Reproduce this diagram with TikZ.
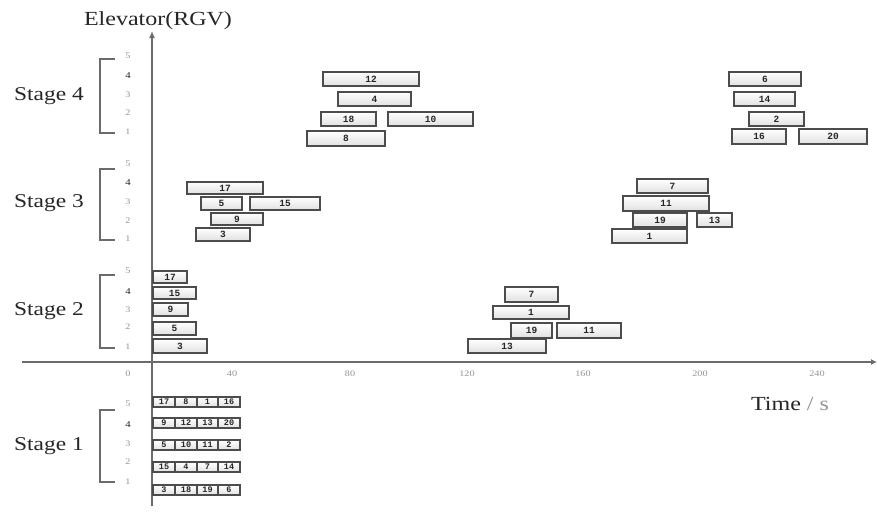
\documentclass[tikz,border=0pt]{standalone}
\usepackage{fontspec}
\setmainfont{Liberation Serif}[FakeStretch=1.2]
\newfontfamily\boxfont{Liberation Mono}
\usetikzlibrary{arrows.meta}

\definecolor{axisgray}{gray}{0.42}
\definecolor{boxedge}{gray}{0.30}
\definecolor{lightlab}{gray}{0.58}
\definecolor{darklab}{gray}{0.15}

\tikzset{
  axis/.style={draw=axisgray, line width=1.8pt},
  bracket/.style={draw=axisgray, line width=1.6pt},
  stagelab/.style={font=\fontsize{19.5}{21}\selectfont, text=darklab},
  titlelab/.style={font=\fontsize{20}{21}\selectfont, text=darklab},
  ticklab/.style={font=\fontsize{8.5}{9}\selectfont, text=lightlab},
  rowlab/.style={font=\fontsize{8.5}{9}\selectfont, text=lightlab},
  rowlabdark/.style={font=\fontsize{9}{10}\selectfont, text=darklab},
  jobbox/.style={draw=boxedge, line width=1.2pt, top color=white,
    bottom color=black!12, inner sep=0pt, outer sep=0pt,
    font=\boxfont\bfseries\fontsize{9.5}{9.5}\selectfont, text=black!85},
  cellbox/.style={jobbox, anchor=north west, minimum height=10pt,
    font=\boxfont\bfseries\fontsize{8.5}{8.5}\selectfont}
}

% one task bar: name, left, top, right, bottom, label
\newcommand\jobrect[6]{%
  \node[jobbox, anchor=north west, minimum width={(#4-#2)*1pt},
        minimum height={(#5-#3)*1pt}] (#1) at (#2,#3) {#6};}

\begin{document}
\begin{tikzpicture}[x=1pt, y=-1pt]
\useasboundingbox (0,0) rectangle (877,515);
\fill[white] (0,0) rectangle (877,515);

% axes
\coordinate (ybot) at (152,506);
\coordinate (ytop) at (152,31);
\coordinate (xleft) at (22,362);
\coordinate (xright) at (877,362);
\draw[axis, -{Latex[length=7pt,width=6pt]}] (ybot) -- (ytop);
\draw[axis, -{Latex[length=6pt,width=6pt]}] (xleft) -- (xright);

\node[titlelab] (ylabel) at (158,21) {Elevator(RGV)};
\node[titlelab] (xlabel) at (790,404) {Time {\color{lightlab}/ s}};

% time ticks
\foreach \v/\x in {0/128,40/232,80/350,120/467,160/583,200/700,240/817}
  \node[ticklab] (tick\v) at (\x,374) {\v};

% stage labels, brackets and row numbers
\foreach \s/\yc/\ya/\yb/\ra/\rb/\rc/\rd/\re in
  {4/96/59/133/56/76/95/113/132,
   3/203/169/240/164/183/202/221/239,
   2/311/275/348/271/292/310/327/347,
   1/446/410/482/404/425/444/462/482}{
  \node[stagelab] (stage\s) at (49,\yc) {Stage \s};
  \draw[bracket] (115,\ya) -- (100,\ya) -- (100,\yb) -- (115,\yb);
  \node[rowlab] (st\s row5) at (128,\ra) {5};
  \node[rowlabdark] (st\s row4) at (128,\rb) {4};
  \node[rowlab] (st\s row3) at (128,\rc) {3};
  \node[rowlab] (st\s row2) at (128,\rd) {2};
  \node[rowlab] (st\s row1) at (128,\re) {1};
}

% stage 4
\jobrect{a12}{323}{72}{419}{86}{12}
\jobrect{a4}{338}{92}{411}{106}{4}
\jobrect{a18}{321}{112}{376}{126}{18}
\jobrect{a10}{388}{112}{473}{126}{10}
\jobrect{a8}{307}{131}{385}{146}{8}
\jobrect{a6}{729}{72}{801}{86}{6}
\jobrect{a14}{734}{92}{795}{106}{14}
\jobrect{a2}{749}{112}{804}{126}{2}
\jobrect{a16}{732}{129}{786}{144}{16}
\jobrect{a20}{799}{129}{867}{144}{20}

% stage 3
\jobrect{b17}{187}{182}{263}{194}{17}
\jobrect{b5}{201}{197}{242}{210}{5}
\jobrect{b15}{250}{197}{320}{210}{15}
\jobrect{b9}{211}{213}{263}{225}{9}
\jobrect{b3}{196}{228}{250}{241}{3}
\jobrect{b7}{637}{179}{708}{193}{7}
\jobrect{b11}{623}{196}{709}{211}{11}
\jobrect{b19}{633}{213}{687}{227}{19}
\jobrect{b13}{697}{213}{732}{227}{13}
\jobrect{b1}{612}{229}{687}{243}{1}

% stage 2
\jobrect{c17}{153}{271}{187}{283}{17}
\jobrect{c15}{153}{287}{196}{299}{15}
\jobrect{c9}{153}{303}{188}{316}{9}
\jobrect{c5}{153}{322}{196}{335}{5}
\jobrect{c3}{153}{339}{207}{353}{3}
\jobrect{c7}{505}{287}{558}{302}{7}
\jobrect{c1}{493}{306}{569}{319}{1}
\jobrect{c19}{511}{323}{552}{338}{19}
\jobrect{c11}{557}{323}{621}{338}{11}
\jobrect{c13}{468}{339}{546}{353}{13}

% stage 1: queues of four jobs per elevator
\foreach \r/\top/\p/\q/\u/\w in
  {5/397/17/8/1/16, 4/418/9/12/13/20, 3/440/5/10/11/2,
   2/462/15/4/7/14, 1/485/3/18/19/6}{
  \node[cellbox, minimum width=22pt] (q\r a) at (153,\top) {\p};
  \node[cellbox, minimum width=22pt] (q\r b) at (175,\top) {\q};
  \node[cellbox, minimum width=21pt] (q\r c) at (197,\top) {\u};
  \node[cellbox, minimum width=22pt] (q\r d) at (218,\top) {\w};
}
\end{tikzpicture}
\end{document}
